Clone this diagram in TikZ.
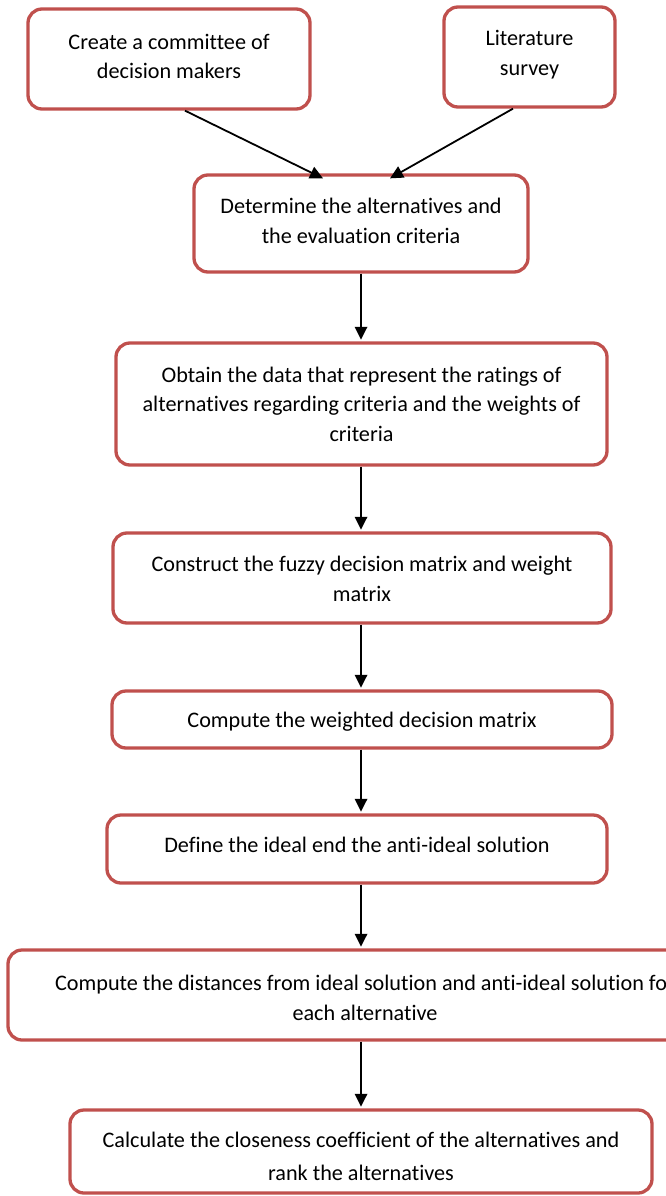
\documentclass[tikz,border=0pt]{standalone}
\usepackage{fontspec}
\setmainfont[Ligatures=NoCommon]{Carlito}
\usetikzlibrary{arrows.meta}
\definecolor{boxred}{HTML}{C0504D}
\begin{document}
\begin{tikzpicture}[x=1pt,y=-1pt,
  box/.style={draw=boxred, line width=3.3pt, rounded corners=14pt, fill=white, inner sep=0pt},
  txt/.style={align=center, font=\fontsize{22.2}{29.5}\selectfont, inner sep=0pt},
  arr/.style={-{Triangle[length=13pt,width=12.5pt]}, line width=1.8pt, black, shorten >=1.6pt}]
\useasboundingbox (0,0) rectangle (666,1196);
\clip (0,0) rectangle (666,1196);
% boxes
\node[box, minimum width=282pt, minimum height=100pt] (b1) at (169,59) {};
\node[txt] (t1) at ([yshift=2.5pt]b1.center) {Create a committee of\\decision makers};
\node[box, minimum width=171pt, minimum height=100pt] (lit) at (529.5,57) {};
\node[txt] (t2) at ([yshift=2.5pt]lit.center) {Literature\\survey};
\node[box, minimum width=334pt, minimum height=97pt] (det) at (361,223.5) {};
\node[txt] (t3) at ([yshift=2.5pt]det.center) {Determine the alternatives and\\the evaluation criteria};
\node[box, minimum width=491pt, minimum height=122pt] (obt) at (361.5,404) {};
\node[txt] (t4) at (obt.center) {Obtain the data that represent the ratings of\\alternatives regarding criteria and the weights of\\criteria};
\node[box, minimum width=498pt, minimum height=90pt] (con) at (362,578) {};
\node[txt] (t5) at ([yshift=-1pt]con.center) {Construct the fuzzy decision matrix and weight\\matrix};
\node[box, minimum width=500pt, minimum height=57pt] (wei) at (362,719.5) {};
\node[txt] (t6) at ([yshift=-2.5pt]wei.center) {Compute the weighted decision matrix};
\node[box, minimum width=500pt, minimum height=68pt] (def) at (357,849) {};
\node[txt] (t7) at ([yshift=4pt]def.center) {Define the ideal end the anti-ideal solution};
\node[box, minimum width=714pt, minimum height=90pt] (dis) at (365,995) {};
\node[txt] (t8) at ([yshift=-3pt]dis.center) {Compute the distances from ideal solution and anti-ideal solution for\\each alternative};
\node[box, minimum width=582pt, minimum height=83pt] (cal) at (361,1151.5) {};
\node[txt, font=\fontsize{22.2}{33}\selectfont] (t9) at ([yshift=-5pt]cal.center) {Calculate the closeness coefficient of the alternatives and\\rank the alternatives};
% arrows
\coordinate (ax) at (361,0);
\coordinate (e1) at ([xshift=-38pt,yshift=-5pt]det.north);
\coordinate (e2) at ([xshift=29pt,yshift=-5pt]det.north);
\draw[arr, shorten >=0pt] ([xshift=16pt]b1.south) -- (e1);
\draw[arr, shorten >=0pt] ([xshift=-16.5pt]lit.south) -- (e2);
\draw[arr] (det.south -| ax) -- (obt.north -| ax);
\draw[arr] (obt.south -| ax) -- (con.north -| ax);
\draw[arr] (con.south -| ax) -- (wei.north -| ax);
\draw[arr] (wei.south -| ax) -- (def.north -| ax);
\draw[arr] (def.south -| ax) -- (dis.north -| ax);
\draw[arr] (dis.south -| ax) -- (cal.north -| ax);
\end{tikzpicture}
\end{document}
